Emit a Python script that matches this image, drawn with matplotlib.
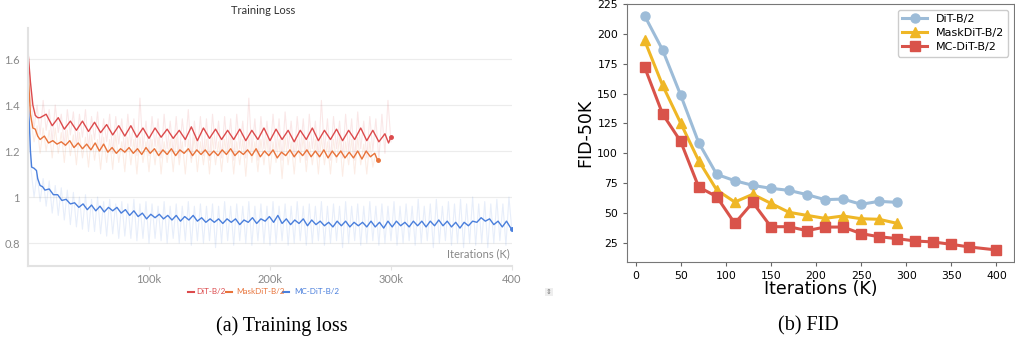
import matplotlib
matplotlib.use('Agg')
import matplotlib.pyplot as plt
from matplotlib.lines import Line2D
import numpy as np

# ---------------- data: training loss (left) ----------------
red_x = [0, 2, 4, 6, 8] + list(range(10, 300, 5)) + [298, 300]
red_smooth = [1.63, 1.50, 1.40, 1.355, 1.345,
              1.345, 1.36, 1.31, 1.345, 1.295, 1.33, 1.29, 1.33, 1.285, 1.325,
              1.28, 1.315, 1.27, 1.31, 1.265, 1.31, 1.26, 1.30, 1.255, 1.30,
              1.26, 1.295, 1.255, 1.29, 1.25, 1.305, 1.245, 1.30, 1.255, 1.295,
              1.25, 1.29, 1.25, 1.295, 1.245, 1.29, 1.25, 1.30, 1.245, 1.295,
              1.25, 1.29, 1.24, 1.29, 1.25, 1.30, 1.245, 1.29, 1.25, 1.295,
              1.245, 1.29, 1.25, 1.30, 1.245, 1.29, 1.24, 1.275,
              1.235, 1.262]

orange_x = [0, 2, 4, 6, 8] + list(np.arange(10, 288, 3.5)) + [289]
orange_smooth = [1.55, 1.36, 1.30, 1.295, 1.265,
                 1.25, 1.265, 1.235, 1.245, 1.23, 1.24, 1.225, 1.245, 1.215, 1.235,
                 1.21, 1.23, 1.205, 1.235, 1.20, 1.23, 1.195, 1.215, 1.19, 1.21,
                 1.195, 1.215, 1.19, 1.21, 1.185, 1.215, 1.19, 1.21, 1.18, 1.205,
                 1.185, 1.21, 1.18, 1.205, 1.19, 1.21, 1.18, 1.205, 1.185, 1.205,
                 1.18, 1.20, 1.18, 1.205, 1.185, 1.21, 1.18, 1.20, 1.185, 1.205,
                 1.18, 1.21, 1.175, 1.20, 1.18, 1.205, 1.17, 1.195, 1.18, 1.205,
                 1.175, 1.20, 1.18, 1.205, 1.175, 1.20, 1.175, 1.205, 1.17, 1.20,
                 1.175, 1.20, 1.17, 1.195, 1.17, 1.20, 1.165, 1.20, 1.175, 1.19,
                 1.16]

blue_x = [0, 1, 2, 3, 5, 7, 8, 10, 12] + list(np.arange(14, 400, 3.5)) + [400]
blue_smooth = [1.40, 1.33, 1.20, 1.13, 1.125, 1.115, 1.08, 1.05, 1.045,
               1.03, 1.035, 1.01, 1.01, 0.985, 0.99, 0.97, 0.975, 0.955, 0.97,
               0.945, 0.965, 0.94, 0.96, 0.935, 0.955, 0.94, 0.955, 0.93, 0.945,
               0.92, 0.94, 0.915, 0.93, 0.905, 0.925, 0.91, 0.925, 0.905, 0.92,
               0.90, 0.92, 0.895, 0.915, 0.90, 0.92, 0.895, 0.91, 0.89, 0.905,
               0.89, 0.905, 0.885, 0.905, 0.89, 0.905, 0.88, 0.90, 0.89, 0.91,
               0.885, 0.905, 0.895, 0.915, 0.89, 0.92, 0.885, 0.905, 0.88, 0.90,
               0.885, 0.905, 0.875, 0.90, 0.88, 0.895, 0.875, 0.89, 0.87, 0.895,
               0.875, 0.895, 0.87, 0.89, 0.875, 0.89, 0.87, 0.895, 0.87, 0.89,
               0.865, 0.895, 0.87, 0.895, 0.875, 0.89, 0.87, 0.895, 0.875, 0.895,
               0.87, 0.895, 0.875, 0.90, 0.875, 0.895, 0.87, 0.89, 0.865, 0.89,
               0.875, 0.895, 0.89, 0.91, 0.895, 0.905, 0.88, 0.895, 0.87, 0.895,
               0.865,
               0.86]

red_raw_x = np.arange(0, 301, 2.5)
red_raw = [1.66, 1.42, 1.30, 1.40, 1.27, 1.42, 1.29, 1.38, 1.24, 1.40,
           1.28, 1.36, 1.22, 1.38, 1.27, 1.37, 1.22, 1.36, 1.26, 1.38,
           1.21, 1.35, 1.25, 1.37, 1.20, 1.34, 1.24, 1.36, 1.19, 1.35,
           1.23, 1.34, 1.19, 1.36, 1.22, 1.34, 1.18, 1.43, 1.21, 1.33,
           1.18, 1.35, 1.22, 1.34, 1.17, 1.36, 1.21, 1.33, 1.19, 1.35,
           1.17, 1.34, 1.22, 1.38, 1.17, 1.33, 1.20, 1.35, 1.18, 1.34,
           1.16, 1.36, 1.21, 1.33, 1.17, 1.35, 1.20, 1.34, 1.16, 1.36,
           1.21, 1.33, 1.17, 1.43, 1.20, 1.34, 1.16, 1.35, 1.21, 1.33,
           1.18, 1.36, 1.20, 1.34, 1.16, 1.37, 1.21, 1.33, 1.17, 1.35,
           1.20, 1.34, 1.16, 1.36, 1.21, 1.33, 1.17, 1.42, 1.20, 1.34,
           1.16, 1.35, 1.21, 1.33, 1.17, 1.36, 1.20, 1.34, 1.16, 1.37,
           1.21, 1.33, 1.17, 1.35, 1.20, 1.34, 1.16, 1.36, 1.19, 1.42,
           1.24]

orange_raw_x = np.arange(0, 288, 2.5)
orange_raw = [1.56, 1.33, 1.24, 1.31, 1.19, 1.30, 1.20, 1.29, 1.17, 1.30,
              1.19, 1.28, 1.15, 1.29, 1.18, 1.27, 1.14, 1.28, 1.17, 1.26,
              1.13, 1.27, 1.16, 1.25, 1.12, 1.26, 1.15, 1.25, 1.12, 1.27,
              1.15, 1.24, 1.11, 1.26, 1.14, 1.25, 1.10, 1.26, 1.15, 1.24,
              1.11, 1.25, 1.14, 1.26, 1.10, 1.24, 1.15, 1.25, 1.11, 1.26,
              1.14, 1.24, 1.10, 1.25, 1.15, 1.26, 1.11, 1.24, 1.14, 1.25,
              1.10, 1.26, 1.14, 1.24, 1.11, 1.25, 1.15, 1.26, 1.10, 1.24,
              1.14, 1.25, 1.09, 1.26, 1.15, 1.24, 1.11, 1.25, 1.14, 1.26,
              1.10, 1.24, 1.15, 1.25, 1.08, 1.26, 1.14, 1.24, 1.10, 1.25,
              1.15, 1.26, 1.11, 1.24, 1.14, 1.25, 1.10, 1.26, 1.14, 1.24,
              1.10, 1.25, 1.15, 1.26, 1.09, 1.24, 1.14, 1.25, 1.10, 1.26,
              1.14, 1.23, 1.10, 1.24, 1.13, 1.19]

blue_raw_x = np.arange(0, 401, 2.5)
blue_raw = [1.38, 1.12, 1.00, 1.10, 0.98, 1.08, 0.96, 1.07, 0.93, 1.05,
            0.92, 1.04, 0.90, 1.03, 0.88, 1.02, 0.87, 1.00, 0.86, 1.01,
            0.85, 0.99, 0.85, 1.00, 0.84, 0.98, 0.83, 0.99, 0.84, 0.97,
            0.82, 0.98, 0.83, 0.97, 0.82, 0.99, 0.81, 0.97, 0.82, 0.98,
            0.80, 0.97, 0.82, 0.96, 0.81, 0.98, 0.80, 0.96, 0.82, 0.97,
            0.80, 0.96, 0.81, 0.98, 0.79, 0.96, 0.81, 0.97, 0.80, 0.96,
            0.81, 0.97, 0.78, 0.96, 0.80, 0.98, 0.81, 0.96, 0.79, 0.97,
            0.81, 0.96, 0.80, 0.98, 0.79, 0.96, 0.81, 0.97, 0.80, 0.96,
            0.79, 0.98, 0.80, 0.96, 0.81, 0.97, 0.79, 0.96, 0.80, 0.98,
            0.81, 0.96, 0.79, 0.97, 0.80, 0.96, 0.81, 0.98, 0.79, 0.96,
            0.80, 0.97, 0.81, 0.96, 0.78, 0.98, 0.80, 0.96, 0.81, 0.97,
            0.79, 0.96, 0.80, 0.98, 0.81, 0.96, 0.79, 0.97, 0.80, 0.96,
            0.81, 0.98, 0.79, 0.96, 0.80, 0.97, 0.81, 0.96, 0.79, 0.99,
            0.80, 0.96, 0.81, 0.97, 0.78, 0.99, 0.80, 0.96, 0.81, 0.98,
            0.79, 0.97, 0.80, 0.99, 0.78, 0.97, 0.80, 1.00, 0.79, 0.97,
            0.80, 0.98, 0.78, 0.97, 0.80, 0.99, 0.81, 0.97, 0.79, 1.00,
            0.85]

loss_names = ['DiT-B/2', 'MaskDiT-B/2', 'MC-DiT-B/2']

# ---------------- data: FID (right) ----------------
dit_x = [10, 30, 50, 70, 90, 110, 130, 150, 170, 190, 210, 230, 250, 270, 290]
dit_fid = [215.5, 186.7, 148.9, 108.9, 82.3, 77.0, 73.1, 70.6, 68.9, 65.3, 61.1, 61.6, 57.2, 59.7, 58.8]
mask_x = [10, 30, 50, 70, 90, 110, 130, 150, 170, 190, 210, 230, 250, 270, 290]
mask_fid = [194.8, 157.0, 125.4, 93.8, 69.2, 59.1, 65.6, 58.0, 50.5, 47.9, 45.4, 47.4, 45.1, 44.6, 41.2]
mc_x = [10, 30, 50, 70, 90, 110, 130, 150, 170, 190, 210, 230, 250, 270, 290, 310, 330, 350, 370, 400]
mc_fid = [172.4, 133.0, 110.0, 71.7, 63.6, 41.2, 58.8, 38.4, 38.4, 35.1, 38.1, 38.1, 32.6, 30.0, 28.4,
          26.4, 25.6, 23.6, 21.4, 18.9]

# ---------------- figure ----------------
fig = plt.figure(figsize=(10.15, 3.47), dpi=100)

c_red, c_orange, c_blue = '#dc4a4c', '#e8733a', '#4a7fdc'
wb_font = ['Lato', 'DejaVu Sans']

ax1 = fig.add_axes([0.0276, 0.2334, 0.4768, 0.686])
ax1.plot(red_raw_x, red_raw, color=c_red, alpha=0.13, lw=0.8)
ax1.plot(orange_raw_x, orange_raw, color=c_orange, alpha=0.13, lw=0.8)
ax1.plot(blue_raw_x, blue_raw, color=c_blue, alpha=0.13, lw=0.8)
ax1.plot(red_x, red_smooth, color=c_red, lw=1.0)
ax1.plot(orange_x, orange_smooth, color=c_orange, lw=1.0)
ax1.plot(blue_x, blue_smooth, color=c_blue, lw=1.0)
ax1.plot(red_x[-1], red_smooth[-1], 'o', color=c_red, ms=2.5)
ax1.plot(orange_x[-1], orange_smooth[-1], 'o', color=c_orange, ms=2.5)
ax1.plot(blue_x[-1], blue_smooth[-1], 'o', color=c_blue, ms=2.5)

ax1.set_xlim(0, 400)
ax1.set_ylim(0.70, 1.735)
ax1.set_yticks([0.8, 1.0, 1.2, 1.4, 1.6])
ax1.set_yticklabels(['0.8', '1', '1.2', '1.4', '1.6'])
ax1.set_xticks([100, 200, 300, 400])
ax1.set_xticklabels(['100k', '200k', '300k', '400'])
ax1.grid(axis='y', color='#ececec', lw=0.8)
ax1.set_axisbelow(True)
for s in ['top', 'right']:
    ax1.spines[s].set_visible(False)
for s in ['left', 'bottom']:
    ax1.spines[s].set_color('#e2e2e2')
    ax1.spines[s].set_linewidth(1.5)
ax1.tick_params(axis='y', length=0, labelsize=8, labelcolor='#888888', pad=6)
ax1.tick_params(axis='x', length=3, color='#e2e2e2', labelsize=8, labelcolor='#888888', pad=3)
for lab in ax1.get_xticklabels() + ax1.get_yticklabels():
    lab.set_family(wb_font)
ax1.text(0.995, 0.03, 'Iterations (K)', transform=ax1.transAxes, ha='right', va='bottom',
         fontsize=8, color='#888888', family=wb_font)

fig.text(263 / 1015, 1 - 11 / 347, 'Training Loss', ha='center', va='center',
         fontsize=8, color='#333333', family=wb_font)

# legend row of the loss panel
leg_y = 1 - 292 / 347
leg_pos = [(188, 196), (226, 236), (283, 294)]
for (lx, tx), name, col in zip(leg_pos, loss_names, [c_red, c_orange, c_blue]):
    fig.add_artist(Line2D([lx / 1015, (lx + 6) / 1015], [leg_y, leg_y],
                          transform=fig.transFigure, color=col, lw=1.5))
    fig.text(tx / 1015, leg_y, name, ha='left', va='center', fontsize=5.8,
             color=col, family=wb_font)
fig.text(549 / 1015, leg_y, '\u21d5', ha='center', va='center', fontsize=5,
         color='#777777', bbox=dict(boxstyle='square,pad=0.2', fc='#eeeeee', ec='none'))

# ---------------- FID panel ----------------
ax2 = fig.add_axes([0.6177, 0.245, 0.3813, 0.7426])
ax2.plot(dit_x, dit_fid, '-o', color='#9dbcd8', lw=2.2, ms=6.5, label='DiT-B/2')
ax2.plot(mask_x, mask_fid, '-^', color='#efb726', lw=2.2, ms=6.5, label='MaskDiT-B/2')
ax2.plot(mc_x, mc_fid, '-s', color='#d9534a', lw=2.2, ms=6.5, label='MC-DiT-B/2')
ax2.set_xticks(range(0, 401, 50))
ax2.set_yticks(range(25, 226, 25))
ax2.set_ylim(8.8, 225)
ax2.tick_params(labelsize=7.8, length=3, color='#666666')
for s in ax2.spines.values():
    s.set_color('#777777')
ax2.set_xlabel('Iterations (K)', fontsize=12.5, labelpad=-1)
ax2.set_ylabel('FID-50K', fontsize=12.5, labelpad=2)
ax2.legend(loc='upper right', fontsize=8, borderpad=0.4, handlelength=2.2,
           labelspacing=0.35, framealpha=1)

# captions
fig.text(282 / 1015, 1 - 326 / 347, '(a) Training loss', ha='center', va='center',
         fontsize=14.5, family='Liberation Serif')
fig.text(808 / 1015, 1 - 326 / 347, '(b) FID', ha='center', va='center',
         fontsize=14.5, family='Liberation Serif')

fig.savefig('out.png', dpi=100)
